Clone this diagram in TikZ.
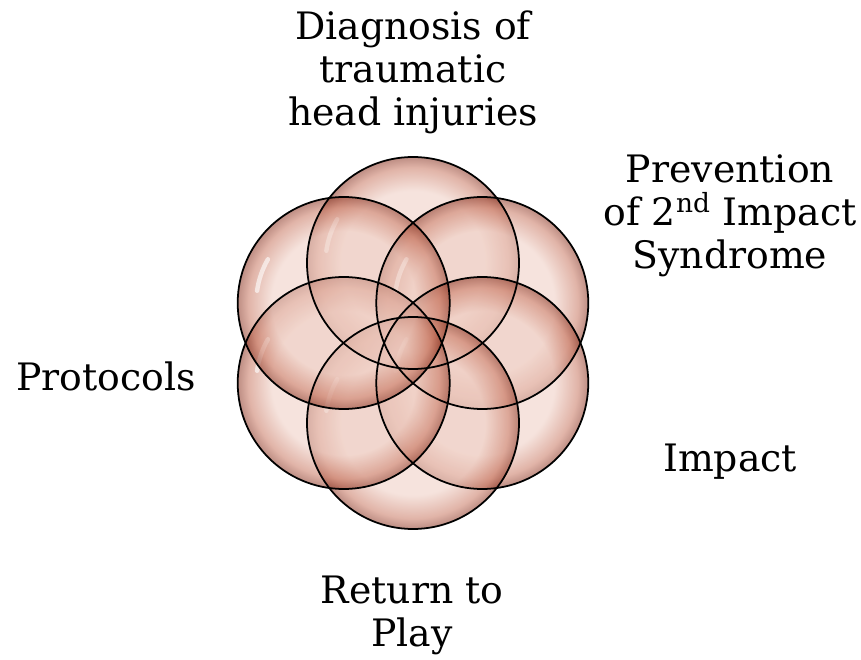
\documentclass[tikz,border=0pt]{standalone}
\usepackage{fontspec}
\setmainfont{DejaVu Serif}
\usepackage{xcolor}
\usepackage{tikz}
\usetikzlibrary{positioning}
\definecolor{bIn}{RGB}{238,204,193}
\definecolor{bMid}{RGB}{200,118,96}
\definecolor{bRim}{RGB}{135,48,30}
\pgfdeclareradialshading{bubble}{\pgfpoint{0bp}{0bp}}{color(0bp)=(bIn);color(17bp)=(bIn);color(22.5bp)=(bMid);color(25bp)=(bRim);color(50bp)=(bRim)}

\begin{document}
\begin{tikzpicture}[font=\fontsize{21.5}{24.5}\selectfont,
  b/.style={circle,minimum size=4.24cm,inner sep=0pt,shading=bubble,
            fill opacity=0.55},
  o/.style={black,line width=1pt},
  hl/.style={white,opacity=0.6,line width=2.5pt,line cap=round},
  t/.style={align=center,inner sep=0pt}]
\useasboundingbox (0,0) rectangle (17.22,13.18);
\begin{scope}[shift={(8.26,6.32)}]
\foreach \a/\n in {90/diag,30/prev,330/imp,270/ret,210/prot,150/hist}{
  \node[b] (c\n) at (\a:1.6) {};
  \draw[hl] (c\n.center) ++(150:1.75) arc (150:172:1.75);
}
\end{scope}
% rims on top
\foreach \n in {diag,prev,imp,ret,prot,hist}
  \draw[o] (c\n.center) circle (2.12);
\node[t] (diag) at (8.26,11.74) {Diagnosis of\\ traumatic\\ head injuries};
\node[t] (prev) at (14.6,8.86) {Prevention\\ of 2\textsuperscript{nd} Impact\\ Syndrome};
\node[t] (prot) at (2.12,5.66) {Protocols};
\node[t] (imp) at (14.6,3.94) {Impact};
\node[t] (ret) at (8.24,0.88) {Return to\\ Play};
\end{tikzpicture}
\end{document}
